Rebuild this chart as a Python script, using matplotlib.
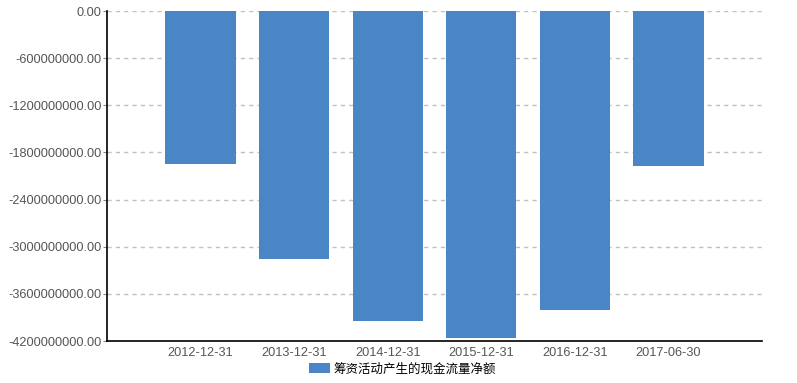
import matplotlib
matplotlib.use('Agg')
import matplotlib.pyplot as plt
import numpy as np

dates = ['2012-12-31', '2013-12-31', '2014-12-31', '2015-12-31', '2016-12-31', '2017-06-30']
values = [-1947000000, -3155000000, -3940000000, -4157000000, -3800000000, -1968000000]
yticks = [0, -600000000, -1200000000, -1800000000, -2400000000, -3000000000, -3600000000, -4200000000]
series_name = '筹资活动产生的现金流量净额'

plt.rcParams['font.family'] = ['Liberation Sans', 'Noto Sans CJK SC', 'DejaVu Sans']

fig = plt.figure(figsize=(7.97, 3.83), dpi=100)
ax = fig.add_axes([107 / 797, 1 - 341 / 383, (762 - 107) / 797, (341 - 11) / 383])

x = np.arange(len(dates))
ax.bar(x, values, width=0.75, color='#4a86c5', label=series_name, zorder=3)

ax.set_xlim(-1, len(dates))
ax.set_ylim(-4200000000, 0)
ax.set_yticks(yticks)
ax.set_yticklabels(['%.2f' % v for v in yticks])
ax.set_xticks(x)
ax.set_xticklabels(dates)
ax.yaxis.grid(True, linestyle=(0, (3, 3)), color='#c0c0c0', linewidth=1, zorder=0)

for s in ['top', 'right']:
    ax.spines[s].set_visible(False)
for s in ['left', 'bottom']:
    ax.spines[s].set_color('black')
    ax.spines[s].set_linewidth(1.2)

ax.tick_params(axis='y', length=3, color='#888888', labelsize=9.2, labelcolor='#555555', pad=1)
ax.tick_params(axis='x', length=0, labelsize=9.2, labelcolor='#555555', pad=4)

leg = fig.legend(loc='lower center', bbox_to_anchor=(0.505, -0.01), frameon=False,
                 handlelength=1.7, handleheight=0.8, handletextpad=0.3,
                 prop={'family': ['Noto Sans CJK SC'], 'size': 9})

fig.savefig('out.png', dpi=100)
